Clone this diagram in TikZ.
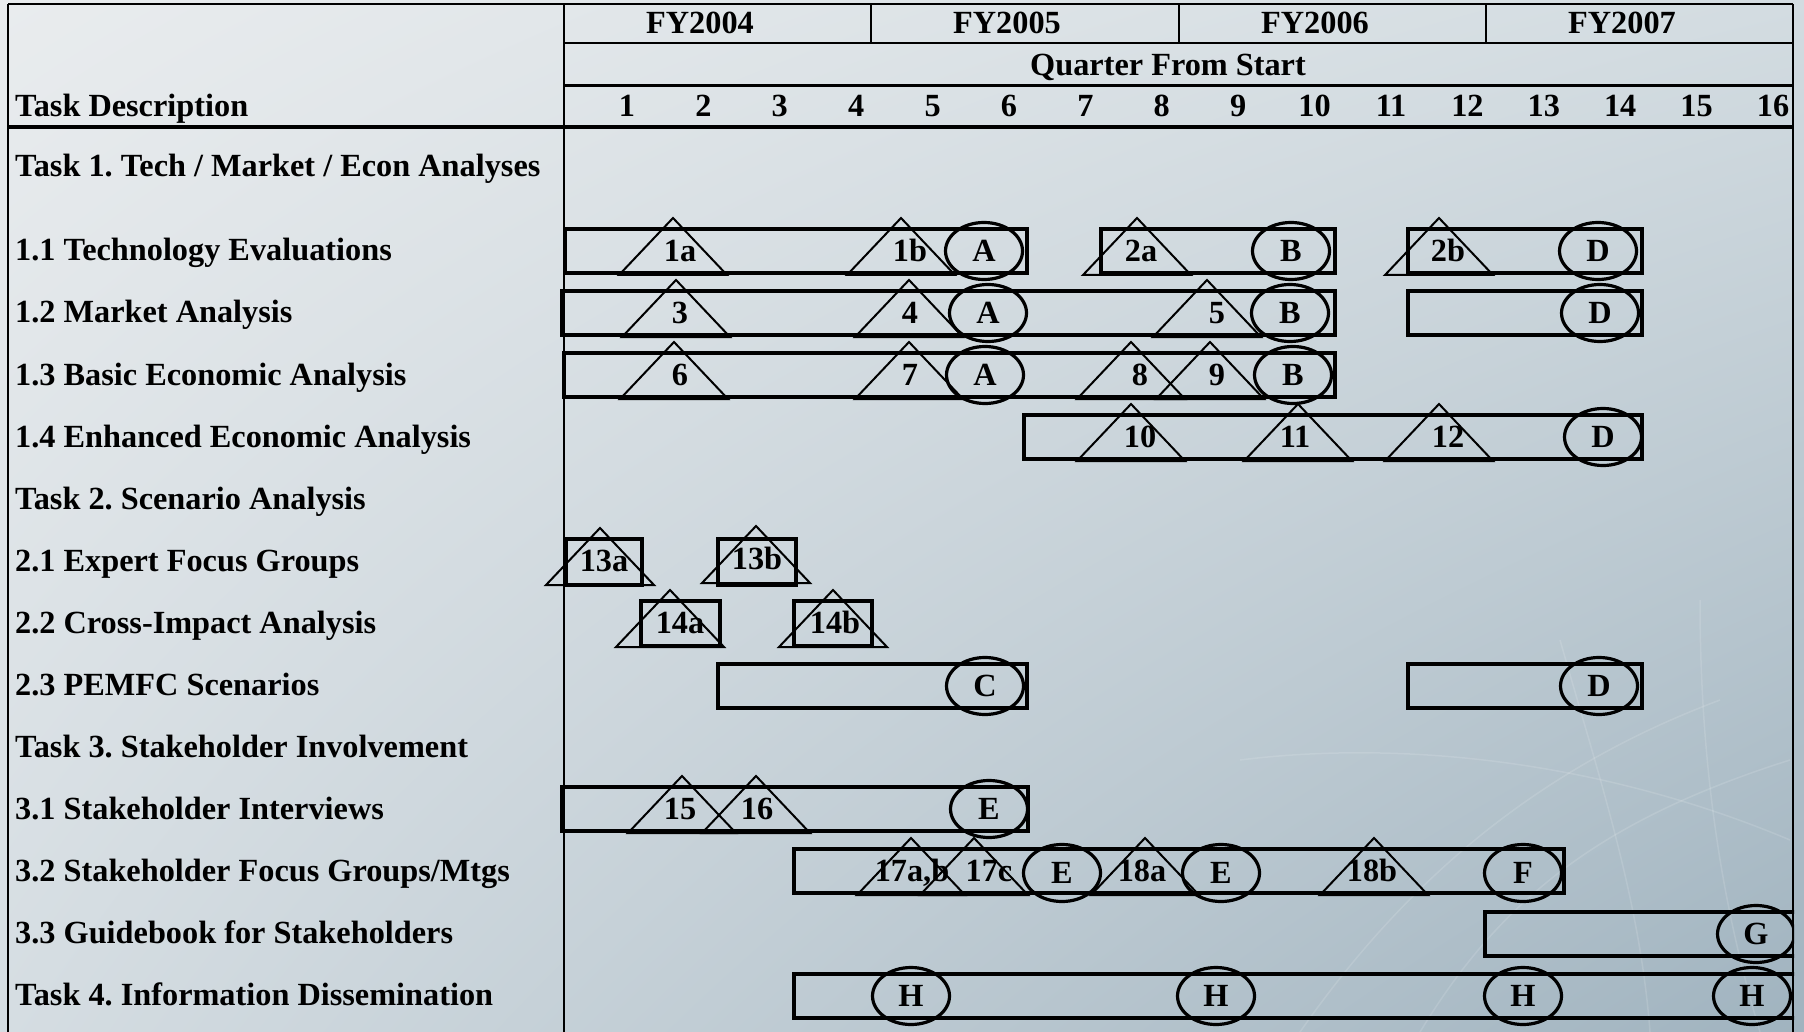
\documentclass[tikz,border=0pt]{standalone}
\usepackage{fontspec}
\setmainfont{Liberation Serif}
\usetikzlibrary{shapes.geometric,shadings}
\frenchspacing
\definecolor{bgUL}{HTML}{E9ECEE}
\definecolor{bgUR}{HTML}{D3DCE1}
\definecolor{bgLL}{HTML}{D5DDE2}
\definecolor{bgLR}{HTML}{A0B3BF}
\newcommand{\msTri}[5]{%
  \draw[tri] ({#2-54},{#3+24}) -- (#2,{#3-33}) -- ({#2+54},{#3+24}) -- cycle;
  \node[tl] (#1) at (#5,#3) {#4};}
\newcommand{\msBar}[3]{\draw[barline] (#1,{#3-22}) rectangle (#2,{#3+22});}
\begin{document}
\begin{tikzpicture}[x=1pt,y=-1pt,
  txt/.style={font=\fontsize{32.3}{38}\selectfont\bfseries, inner sep=0pt},
  rowlbl/.style={txt, anchor=base west},
  hd/.style={txt, anchor=base},
  tl/.style={txt, text height=21pt, text depth=0pt},
  ms/.style={txt, ellipse, draw, line width=3.2pt, minimum width=77pt, minimum height=57pt, text height=21pt, text depth=0pt},
  tri/.style={draw, line width=2pt, line join=miter},
  barline/.style={draw, line width=4.2pt},
  frame/.style={draw, line width=2.5pt}]
\useasboundingbox (0,0) rectangle (1804,1032);
\shade[upper left=bgUL, upper right=bgUR, lower left=bgLL, lower right=bgLR] (0,0) rectangle (1804,1032);
% faint background arcs
\begin{scope}[white, opacity=0.13, line width=1.5pt]
  \draw (1300,1032) .. controls (1420,860) and (1560,760) .. (1720,700);
  \draw (1420,1032) .. controls (1500,900) and (1600,820) .. (1790,760);
  \draw (1560,640) .. controls (1600,780) and (1640,900) .. (1650,1032);
  \draw (1700,600) .. controls (1700,760) and (1720,900) .. (1760,1032);
  \draw (1240,760) .. controls (1400,740) and (1600,760) .. (1790,840);
\end{scope}
% frame and header grid
\draw[frame] (8,4) -- (1793,4);
\draw[frame] (8,4) -- (8,1032);
\draw[frame] (1793,4) -- (1793,1032);
\draw[frame] (564,4) -- (564,1032);
\draw[line width=2pt] (564,43) -- (1793,43);
\draw[line width=2pt] (871,4) -- (871,43) (1179,4) -- (1179,43) (1486,4) -- (1486,43);
\draw[line width=3pt] (564,86) -- (1793,86);
\draw[line width=3.5pt] (8,127) -- (1793,127);
% header text
\node[hd] (fy4) at (700,34) {FY2004};
\node[hd] (fy5) at (1007,34) {FY2005};
\node[hd] (fy6) at (1315,34) {FY2006};
\node[hd] (fy7) at (1622,34) {FY2007};
\node[hd] (qfs) at (1168,76) {Quarter From Start};
\node[rowlbl] (tdesc) at (15,117) {Task Description};
\foreach \n in {1,...,16} \node[hd] (q\n) at ({627+(\n-1)*76.4},117) {\n};
% row labels
\node[rowlbl] (r0) at (15,177) {Task 1. Tech / Market / Econ Analyses};
\node[rowlbl] (r11) at (15,261) {1.1 Technology Evaluations};
\node[rowlbl] (r12) at (15,323) {1.2 Market Analysis};
\node[rowlbl] (r13) at (15,385) {1.3 Basic Economic Analysis};
\node[rowlbl] (r14) at (15,447) {1.4 Enhanced Economic Analysis};
\node[rowlbl] (r2) at (15,509) {Task 2. Scenario Analysis};
\node[rowlbl] (r21) at (15,571) {2.1 Expert Focus Groups};
\node[rowlbl] (r22) at (15,633) {2.2 Cross-Impact Analysis};
\node[rowlbl] (r23) at (15,695) {2.3 PEMFC Scenarios};
\node[rowlbl] (r3) at (15,757) {Task 3. Stakeholder Involvement};
\node[rowlbl] (r31) at (15,819) {3.1 Stakeholder Interviews};
\node[rowlbl] (r32) at (15,881) {3.2 Stakeholder Focus Groups/Mtgs};
\node[rowlbl] (r33) at (15,943) {3.3 Guidebook for Stakeholders};
\node[rowlbl] (r4) at (15,1005) {Task 4. Information Dissemination};
% chart
\begin{scope}
\clip (0,0) rectangle (1794,1032);
% row 1.1
\msBar{565}{1027}{251} \msBar{1101}{1335}{251} \msBar{1408}{1642}{251}
\msTri{t1a}{673}{251}{1a}{680}
\msTri{t1b}{901}{251}{1b}{910}
\msTri{t2a}{1137}{251}{2a}{1141}
\msTri{t2b}{1439}{251}{2b}{1448}
\node[ms] (a11) at (984,251) {A};
\node[ms] (b11) at (1291,251) {B};
\node[ms] (d11) at (1598,251) {D};
% row 1.2
\msBar{562}{1335}{313} \msBar{1408}{1642}{313}
\msTri{t3}{676}{313}{3}{680}
\msTri{t4}{909}{313}{4}{910}
\msTri{t5}{1207}{313}{5}{1217}
\node[ms] (a12) at (988,313) {A};
\node[ms] (b12) at (1290,313) {B};
\node[ms] (d12) at (1600,313) {D};
% row 1.3
\msBar{564}{1335}{375}
\msTri{t6}{674}{375}{6}{680}
\msTri{t7}{909}{375}{7}{910}
\msTri{t8}{1131}{375}{8}{1140}
\msTri{t9}{1210}{375}{9}{1217}
\node[ms] (a13) at (985,375) {A};
\node[ms] (b13) at (1293,375) {B};
% row 1.4
\msBar{1024}{1642}{437}
\msTri{t10}{1131}{437}{10}{1140}
\msTri{t11}{1298}{437}{11}{1295}
\msTri{t12}{1439}{437}{12}{1448}
\node[ms] (d14) at (1603,437) {D};
% row 2.1
\draw[barline] (566,539) rectangle (642,585);
\draw[barline] (718,539) rectangle (796,585);
\msTri{t13a}{600}{561}{13a}{604}
\msTri{t13b}{756}{559}{13b}{757}
% row 2.2
\draw[barline] (641,601) rectangle (720,646);
\draw[barline] (794,601) rectangle (872,646);
\msTri{t14a}{670}{623}{14a}{680}
\msTri{t14b}{833}{623}{14b}{835}
% row 2.3
\msBar{718}{1027}{686} \msBar{1408}{1642}{686}
\node[ms] (c23) at (985,686) {C};
\node[ms] (d23) at (1599,686) {D};
% row 3.1
\msBar{562}{1028}{809}
\msTri{t15}{682}{809}{15}{680}
\msTri{t16}{756}{809}{16}{757}
\node[ms] (e31) at (989,809) {E};
% row 3.2
\msBar{794}{1564}{871}
\msTri{t17ab}{911}{871}{17a,b}{912}
\msTri{t17c}{974}{871}{17c}{989}
\msTri{t18a}{1145}{871}{18a}{1142}
\msTri{t18b}{1374}{871}{18b}{1372}
\node[ms] (e32a) at (1062,873) {E};
\node[ms] (e32b) at (1221,873) {E};
\node[ms] (f32) at (1523,873) {F};
% row 3.3
\msBar{1485}{1800}{934}
\node[ms] (g33) at (1756,934) {G};
% task 4
\msBar{794}{1800}{996}
\node[ms] (h1) at (911,996) {H};
\node[ms] (h2) at (1216,996) {H};
\node[ms] (h3) at (1523,996) {H};
\node[ms] (h4) at (1752,996) {H};
\end{scope}
\end{tikzpicture}
\end{document}
